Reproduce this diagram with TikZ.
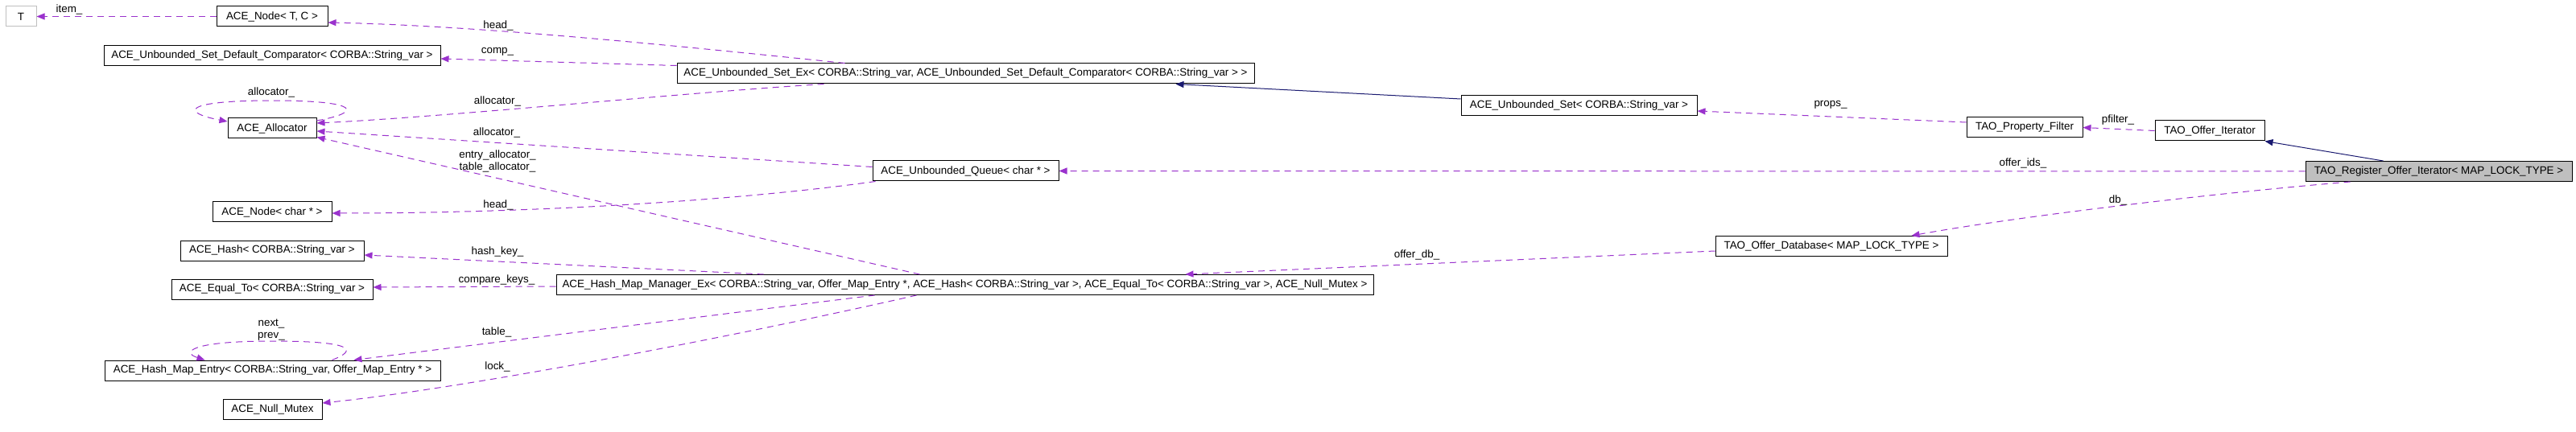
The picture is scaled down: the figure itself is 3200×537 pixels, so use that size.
\documentclass[tikz,border=0pt]{standalone}
\usepackage{fontspec}
\setmainfont{Liberation Sans}
\usetikzlibrary{arrows.meta}
\definecolor{usecol}{HTML}{9A32CD}
\definecolor{inhcol}{HTML}{191970}
\definecolor{graybord}{HTML}{BFBFBF}
\tikzset{
  cls/.style={draw=black, line width=1pt, fill=white, inner sep=0pt, minimum height=25pt,
    font=\fontsize{13.4}{15}\selectfont},
  ext/.style={cls, draw=graybord},
  cur/.style={cls, fill=graybord},
  lab/.style={inner sep=0pt, font=\fontsize{13.4}{15}\selectfont, align=center},
  usedge/.style={draw=usecol, line width=1pt, dash pattern=on 8pt off 6pt,
    -{Triangle[length=10pt,width=8pt]}},
  inhedge/.style={draw=inhcol, line width=1pt, -{Triangle[length=10pt,width=8pt]}}
}
\begin{document}
\begin{tikzpicture}[x=1pt,y=-1pt]
\useasboundingbox[fill=white] (0,0) rectangle (3200,537);

% nodes
\node[ext, minimum width=38pt] (T) at (26,20.5) {T};
\node[cls, minimum width=138pt] (nodeTC) at (338,20.5) {ACE\_Node< T, C >};
\node[cls, minimum width=418pt] (comp) at (338,69) {ACE\_Unbounded\_Set\_Default\_Comparator< CORBA::String\_var >};
\node[cls, minimum width=717pt] (setex) at (1199.5,91.5) {ACE\_Unbounded\_Set\_Ex< CORBA::String\_var, ACE\_Unbounded\_Set\_Default\_Comparator< CORBA::String\_var > >};
\node[cls, minimum width=110pt] (alloc) at (338,159.5) {ACE\_Allocator};
\node[cls, minimum width=148pt] (nodechar) at (338,263.5) {ACE\_Node< char * >};
\node[cls, minimum width=231pt] (queue) at (1199.5,212.5) {ACE\_Unbounded\_Queue< char * >};
\node[cls, minimum width=293pt] (uset) at (1961.5,131.5) {ACE\_Unbounded\_Set< CORBA::String\_var >};
\node[cls, minimum width=144pt] (pfilter) at (2515,158.5) {TAO\_Property\_Filter};
\node[cls, minimum width=136pt] (offiter) at (2745,162.5) {TAO\_Offer\_Iterator};
\node[cur, minimum width=331pt] (reg) at (3029.5,213) {TAO\_Register\_Offer\_Iterator< MAP\_LOCK\_TYPE >};
\node[cls, minimum width=288pt] (db) at (2275,306) {TAO\_Offer\_Database< MAP\_LOCK\_TYPE >};
\node[cls, minimum width=228pt] (hash) at (338,311.5) {ACE\_Hash< CORBA::String\_var >};
\node[cls, minimum width=250pt] (equal) at (338,359.5) {ACE\_Equal\_To< CORBA::String\_var >};
\node[cls, minimum width=1015pt] (manager) at (1198.5,354) {ACE\_Hash\_Map\_Manager\_Ex< CORBA::String\_var, Offer\_Map\_Entry *, ACE\_Hash< CORBA::String\_var >, ACE\_Equal\_To< CORBA::String\_var >, ACE\_Null\_Mutex >};
\node[cls, minimum width=417pt] (entry) at (338.5,460.5) {ACE\_Hash\_Map\_Entry< CORBA::String\_var, Offer\_Map\_Entry * >};
\node[cls, minimum width=123pt] (mutex) at (338.5,508.5) {ACE\_Null\_Mutex};

% connectors
\draw[usedge] (nodeTC.west) -- (T.east);
\draw[usedge] ([xshift=209pt]setex.north west) .. controls (850,58) and (600,32) .. ([yshift=-7.5pt]nodeTC.east);
\draw[usedge] ([yshift=10pt]setex.west) -- ([yshift=-4pt]comp.east);
\draw[usedge] ([xshift=183pt]setex.south west) .. controls (850,115) and (560,145) .. ([yshift=6.5pt]alloc.east);
\draw[usedge] ([yshift=9.5pt]alloc.east) .. controls (450,140) and (450,125) .. (338,125)
   .. controls (225,125) and (225,140) .. ([yshift=8.5pt]alloc.west);
\draw[usedge] ([yshift=5pt]queue.west) -- ([yshift=-3.5pt]alloc.east);
\draw[usedge] ([xshift=452pt]manager.north west) -- ([yshift=-11pt]alloc.east);
\draw[usedge] ([xshift=4pt]queue.south west) .. controls (950,245) and (700,265) .. ([yshift=-1.5pt]nodechar.east);
\draw[usedge] (reg.west) -- (queue.east);
\draw[inhedge] ([xshift=97pt]reg.north west) -- (offiter.south east);
\draw[usedge] (offiter.west) -- (pfilter.east);
\draw[usedge] ([yshift=6.5pt]pfilter.west) -- ([yshift=-6.5pt]uset.east);
\draw[inhedge] ([yshift=8.5pt]uset.west) -- ([xshift=620pt]setex.south west);
\draw[usedge] ([xshift=56pt]reg.south west) .. controls (2750,240) and (2500,270) .. ([xshift=244pt]db.north west);
\draw[usedge] ([yshift=-6pt]db.west) -- ([xshift=782pt]manager.north west);
\draw[usedge] ([xshift=258pt]manager.north west) -- ([yshift=-5.5pt]hash.east);
\draw[usedge] ([yshift=-2pt]manager.west) -- ([yshift=2.5pt]equal.east);
\draw[usedge] ([xshift=396pt]manager.south west) -- ([xshift=-108pt]entry.north east);
\draw[usedge] ([xshift=448pt]manager.south west) .. controls (950,410) and (600,480) .. ([yshift=7.5pt]mutex.east);
\draw[usedge] ([xshift=283pt]entry.north west) .. controls (445,435) and (440,424) .. (338,424)
   .. controls (236,424) and (225,438) .. ([xshift=125pt]entry.north west);

% labels
\node[lab] (l1) at (86,12) {item\_};
\node[lab] (l2) at (619,32) {head\_};
\node[lab] (l3) at (618,64) {comp\_};
\node[lab] (l4) at (618,126) {allocator\_};
\node[lab] (l5) at (337,115) {allocator\_};
\node[lab] (l6) at (617,165) {allocator\_};
\node[lab] (l7) at (618,200.5) {entry\_allocator\_\\table\_allocator\_};
\node[lab] (l8) at (619,255) {head\_};
\node[lab] (l9) at (2513,203) {offer\_ids\_};
\node[lab] (l10) at (2631,149) {pfilter\_};
\node[lab] (l11) at (2274,130) {props\_};
\node[lab] (l12) at (2631,249) {db\_};
\node[lab] (l13) at (1760,317) {offer\_db\_};
\node[lab] (l14) at (618,313) {hash\_key\_};
\node[lab] (l15) at (617,348) {compare\_keys\_};
\node[lab] (l16) at (617,413) {table\_};
\node[lab] (l17) at (618,456) {lock\_};
\node[lab] (l18) at (337,410) {next\_\\prev\_};
\end{tikzpicture}
\end{document}
